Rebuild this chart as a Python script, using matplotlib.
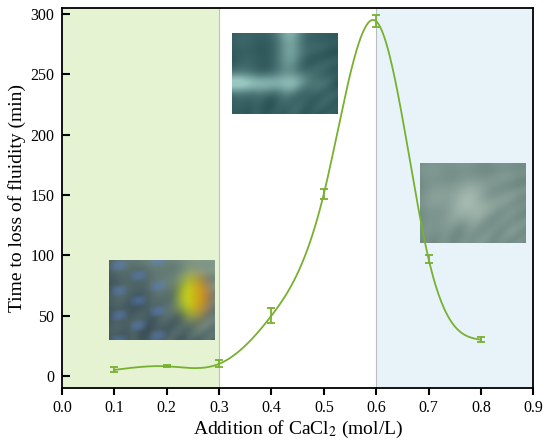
import numpy as np
import matplotlib
matplotlib.use("Agg")
import matplotlib.pyplot as plt

# data
conc = [0.1, 0.2, 0.3, 0.4, 0.5, 0.6, 0.7, 0.8]
time_min = [5, 8, 10, 50, 151, 294, 97, 30]
time_err = [2, 1, 3, 6, 4, 5, 3, 2]

xticks = [0.0, 0.1, 0.2, 0.3, 0.4, 0.5, 0.6, 0.7, 0.8, 0.9]
yticks = [0, 50, 100, 150, 200, 250, 300]

GREEN = '#78b030'


def natural_spline(x, y, xs):
    x = np.asarray(x, float)
    y = np.asarray(y, float)
    n = len(x)
    h = np.diff(x)
    A = np.zeros((n, n))
    b = np.zeros(n)
    A[0, 0] = A[-1, -1] = 1
    for i in range(1, n - 1):
        A[i, i - 1] = h[i - 1]
        A[i, i] = 2 * (h[i - 1] + h[i])
        A[i, i + 1] = h[i]
        b[i] = 6 * ((y[i + 1] - y[i]) / h[i] - (y[i] - y[i - 1]) / h[i - 1])
    m = np.linalg.solve(A, b)
    out = np.empty_like(xs)
    for j, xv in enumerate(xs):
        i = min(max(np.searchsorted(x, xv) - 1, 0), n - 2)
        t1 = x[i + 1] - xv
        t0 = xv - x[i]
        out[j] = (m[i] * t1**3 + m[i + 1] * t0**3) / (6 * h[i]) \
            + (y[i] / h[i] - m[i] * h[i] / 6) * t1 \
            + (y[i + 1] / h[i] - m[i + 1] * h[i] / 6) * t0
    return out


def photo(kind, w=120, h=90):
    # rough stand-ins for the micrographs
    u, v = np.meshgrid(np.linspace(0, 1, w), np.linspace(0, 1, h))
    tex = 0.5 + 0.25 * np.sin(13 * u + 7 * v) * np.cos(9 * v - 5 * u) \
        + 0.15 * np.sin(31 * u * v + 4 * u)
    if kind == 1:
        base = np.array([0.22, 0.30, 0.34])
        light = np.array([0.62, 0.72, 0.62])
        mix = np.clip(0.3 * tex + 0.7 * np.clip(u * 0.8 - v * 0.6 + 0.1, 0, 1), 0, 1)
        img = base * (1 - mix[..., None]) + light * mix[..., None]
        blue = np.clip(np.sin(20 * v + 3 * u) * np.sin(17 * u), 0, 1) * (u < 0.55)
        img = img * (1 - 0.45 * blue[..., None]) + np.array([0.35, 0.5, 0.8]) * 0.45 * blue[..., None]
        blob = np.exp(-(((u - 0.8) / 0.16) ** 2 + ((v - 0.45) / 0.28) ** 2) ** 1.5)
        yel = np.stack([0.75 + 0.4 * (u - 0.7), 0.8 - 0.8 * np.clip(u - 0.75, 0, 1) * 2, 0.1 + 0 * u], -1)
        img = img * (1 - blob[..., None]) + np.clip(yel, 0, 1) * blob[..., None]
    elif kind == 2:
        base = np.array([0.16, 0.32, 0.33])
        light = np.array([0.60, 0.78, 0.76])
        band = np.exp(-((v - 0.62) / 0.12) ** 2) * (1 - u) + np.exp(-((u - 0.55) / 0.12) ** 2) * (1 - v) * 0.7
        mix = np.clip(0.2 * tex + band, 0, 1)
        img = base * (1 - mix[..., None]) + light * mix[..., None]
    else:
        base = np.array([0.42, 0.52, 0.50])
        light = np.array([0.70, 0.78, 0.74])
        spot = np.exp(-(((u - 0.45) / 0.25) ** 2 + ((v - 0.5) / 0.25) ** 2))
        mix = np.clip(0.35 * tex + 0.6 * spot, 0, 1)
        img = base * (1 - mix[..., None]) + light * mix[..., None]
    return np.clip(img, 0, 1)


plt.rcParams['font.family'] = ['Liberation Serif', 'DejaVu Serif']
plt.rcParams['mathtext.fontset'] = 'stix'

fig = plt.figure(figsize=(5.5, 4.47), dpi=100)
ax = fig.add_axes([0.1127, 0.132, 0.857, 0.850])

ax.axvspan(0.0, 0.3, color='#e5f3d2', zorder=0, lw=0)
ax.axvspan(0.6, 0.9, color='#e8f3f9', zorder=0, lw=0)
ax.axvline(0.3, color='#b8c8b0', lw=0.8, zorder=1)
ax.axvline(0.6, color='#b8bec2', lw=0.8, zorder=1)

ax.imshow(photo(1), extent=[0.09, 0.292, 29.7, 95.3], aspect='auto', zorder=2)
ax.imshow(photo(2), extent=[0.324, 0.526, 217.4, 283.8], aspect='auto', zorder=2)
ax.imshow(photo(3), extent=[0.684, 0.886, 110.2, 175.8], aspect='auto', zorder=2)

xs = np.linspace(conc[0], conc[-1], 400)
ax.plot(xs, natural_spline(conc, time_min, xs), color=GREEN, lw=1.3, zorder=3)
ax.errorbar(conc, time_min, yerr=time_err, fmt='none', ecolor=GREEN,
            elinewidth=1.3, capsize=3, capthick=1.3, zorder=4)

ax.set_xlim(0.0, 0.9)
ax.set_ylim(-10, 305)
ax.set_xticks(xticks)
ax.set_xticklabels([f'{t:.1f}' for t in xticks])
ax.set_yticks(yticks)
ax.tick_params(axis='x', direction='out', length=5, width=1.5, labelsize=11.5, pad=4)
ax.tick_params(axis='y', direction='in', length=6, width=1.5, labelsize=11.5, pad=5.5)
for s in ax.spines.values():
    s.set_linewidth(1.3)

ax.set_xlabel(r'Addition of CaCl$_2$ (mol/L)', fontsize=14, labelpad=2)
ax.set_ylabel('Time to loss of fluidity (min)', fontsize=14, labelpad=3)

fig.savefig('out.png', dpi=100)
